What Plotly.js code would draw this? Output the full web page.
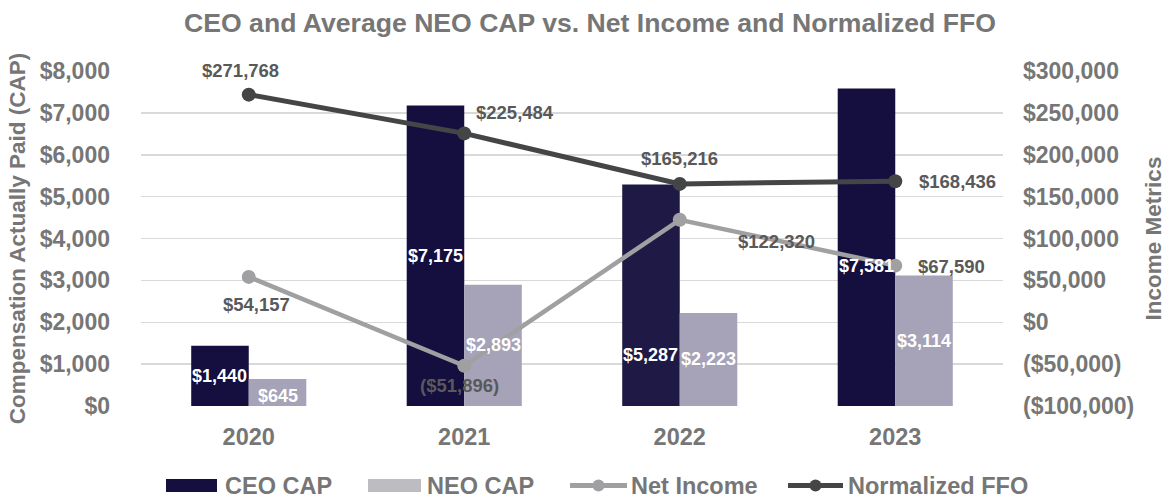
<!DOCTYPE html>
<html>
<head>
<meta charset="utf-8">
<script src="https://cdn.plot.ly/plotly-3.0.1.min.js"></script>
<style>html,body{margin:0;padding:0;background:#fff;}#chart{width:1172px;height:498px;}</style>
</head>
<body>
<div id="chart"></div>
<script>
const years = ["2020", "2021", "2022", "2023"];
const ceoCap = [1440, 7175, 5287, 7581];
const neoCap = [645, 2893, 2223, 3114];
const netIncome = [54157, -51896, 122320, 67590];
const normalizedFFO = [271768, 225484, 165216, 168436];

const leftTickVals = [0, 1000, 2000, 3000, 4000, 5000, 6000, 7000, 8000];
const rightTickVals = [-100000, -50000, 0, 50000, 100000, 150000, 200000, 250000, 300000];

function money(v) {
  const s = "$" + Math.abs(v).toLocaleString("en-US");
  return v < 0 ? "(" + s + ")" : s;
}

const gray = "#767676";
const labelGray = "#595959";
const FONT = "Liberation Sans, Arial, sans-serif";

const ceoColor = "#140f3f";
const ceoColors = [ceoColor, ceoColor, "#1e1a45", ceoColor];
const neoColor = "#a6a2b8";
const neoLegendColor = "#bdbdc1";
const niColor = "#a0a0a3";
const ffoColor = "#444546";

const traces = [
  {type: "bar", name: "CEO CAP", x: years, y: ceoCap, marker: {color: ceoColors}, yaxis: "y", hoverinfo: "skip"},
  {type: "bar", name: "NEO CAP", x: years, y: neoCap, marker: {color: neoColor}, yaxis: "y", hoverinfo: "skip"},
  {type: "scatter", mode: "lines+markers", name: "Net Income", x: years, y: netIncome, yaxis: "y2",
    line: {color: niColor, width: 4.5}, marker: {size: 14, color: niColor}, hoverinfo: "skip"},
  {type: "scatter", mode: "lines+markers", name: "Normalized FFO", x: years, y: normalizedFFO, yaxis: "y2",
    line: {color: ffoColor, width: 5}, marker: {size: 14, color: ffoColor}, hoverinfo: "skip"}
];

// plot area in pixels (for converting legend positions to paper coords)
const PL = 141, PR = 1003, PT = 71, PB = 406;
const px = v => (v - PL) / (PR - PL);
const py = v => (PB - v) / (PB - PT);

const annotations = [];
const barFont = {family: FONT, size: 18, color: "#ffffff", weight: 700};
const ceoShift = [0, 0, -60, -19];
const neoShift = [-3, 0, 0, 0];
years.forEach((yr, i) => {
  annotations.push({x: i, y: ceoCap[i] / 2, xref: "x", yref: "y", xshift: -29, yshift: ceoShift[i],
    text: money(ceoCap[i]), showarrow: false, font: barFont});
  annotations.push({x: i, y: neoCap[i] / 2, xref: "x", yref: "y", xshift: 29, yshift: neoShift[i],
    text: money(neoCap[i]), showarrow: false, font: barFont});
});
const lineFont = {family: FONT, size: 18.5, color: labelGray, weight: 700};
const ffoOff = [[-8, 24], [51, 21], [0, 25], [62, 0]];
const niOff = [[8, -28], [-5, -20], [97, -22], [56, -1]];
years.forEach((yr, i) => {
  annotations.push({x: i, y: normalizedFFO[i], xref: "x", yref: "y2",
    xshift: ffoOff[i][0], yshift: ffoOff[i][1], text: money(normalizedFFO[i]), showarrow: false, font: lineFont});
  annotations.push({x: i, y: netIncome[i], xref: "x", yref: "y2",
    xshift: niOff[i][0], yshift: niOff[i][1], text: money(netIncome[i]), showarrow: false, font: lineFont});
});

// custom legend (wide swatches like the reference)
const legFont = {family: FONT, size: 23.5, color: gray, weight: 700};
const legY = 485.5;
const shapes = [];
const legendItems = [
  {name: traces[0].name, kind: "bar", color: ceoColor, x0: 166, x1: 217, tx: 223},
  {name: traces[1].name, kind: "bar", color: neoLegendColor, x0: 368, x1: 421, tx: 425},
  {name: traces[2].name, kind: "line", color: niColor, x0: 570, x1: 627, tx: 629},
  {name: traces[3].name, kind: "line", color: ffoColor, x0: 788, x1: 843, tx: 846}
];
legendItems.forEach(it => {
  if (it.kind === "bar") {
    shapes.push({type: "rect", xref: "paper", yref: "paper", x0: px(it.x0), x1: px(it.x1),
      y0: py(legY + 6.5), y1: py(legY - 6.5), fillcolor: it.color, line: {width: 0}});
  } else {
    shapes.push({type: "line", xref: "paper", yref: "paper", x0: px(it.x0), x1: px(it.x1),
      y0: py(legY), y1: py(legY), line: {color: it.color, width: 5}});
    const cx = (it.x0 + it.x1) / 2;
    shapes.push({type: "circle", xref: "paper", yref: "paper", x0: px(cx - 6), x1: px(cx + 6),
      y0: py(legY + 6), y1: py(legY - 6), fillcolor: it.color, line: {width: 0}});
  }
  annotations.push({xref: "paper", yref: "paper", x: px(it.tx), y: py(legY), xanchor: "left", yanchor: "middle",
    text: it.name, showarrow: false, font: legFont});
});

const tickFont = {family: FONT, size: 23, color: gray, weight: 700};
const layout = {
  width: 1172, height: 498,
  margin: {l: PL, r: 1172 - PR, t: PT, b: 498 - PB, pad: 0},
  paper_bgcolor: "#ffffff", plot_bgcolor: "#ffffff",
  font: {family: FONT, color: gray, weight: 700},
  title: {
    text: "CEO and Average NEO CAP vs. Net Income and Normalized FFO",
    x: 0.5034, xref: "container", xanchor: "center",
    y: 1 - 23 / 498, yref: "container", yanchor: "middle",
    font: {family: FONT, size: 26.6, color: gray, weight: 700}
  },
  barmode: "group", bargap: 0.466, bargroupgap: 0,
  xaxis: {
    type: "category", range: [-0.5, 3.5], showgrid: false, zeroline: false,
    showline: false, ticks: "", tickfont: {family: FONT, size: 23.5, color: gray, weight: 700},
    ticklabelstandoff: 14, fixedrange: true
  },
  yaxis: {
    range: [0, 8000], tickvals: leftTickVals, ticktext: leftTickVals.map(money),
    showgrid: true, gridcolor: "#d9d9d9", gridwidth: 1.5, zeroline: false, showline: false,
    tickfont: tickFont, ticklabelstandoff: 30,
    title: {text: "Compensation Actually Paid (CAP)", standoff: 7,
      font: {family: FONT, size: 22.5, color: gray, weight: 700}},
    fixedrange: true
  },
  yaxis2: {
    overlaying: "y", side: "right", range: [-100000, 300000],
    tickvals: rightTickVals, ticktext: rightTickVals.map(money),
    showgrid: false, zeroline: false, showline: false,
    tickfont: tickFont, ticklabelstandoff: 19,
    title: {text: "Income Metrics", standoff: 11,
      font: {family: FONT, size: 22.5, color: gray, weight: 700}},
    fixedrange: true
  },
  showlegend: false,
  shapes: shapes,
  annotations: annotations
};

Plotly.newPlot("chart", traces, layout, {displayModeBar: false, staticPlot: true});
</script>
</body>
</html>
